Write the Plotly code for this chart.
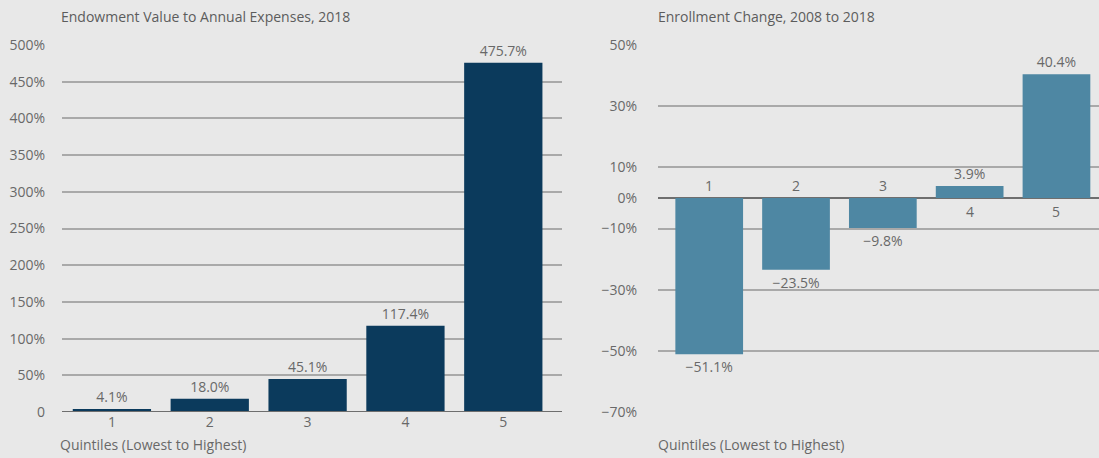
import plotly.graph_objects as go

quintiles = ["1", "2", "3", "4", "5"]
endowment_ratio = [4.1, 18.0, 45.1, 117.4, 475.7]
enrollment_change = [-51.1, -23.5, -9.8, 3.9, 40.4]

left_title = "Endowment Value to Annual Expenses, 2018"
right_title = "Enrollment Change, 2008 to 2018"
x_title = "Quintiles (Lowest to Highest)"

left_ticks = [0, 50, 100, 150, 200, 250, 300, 350, 400, 450, 500]
right_ticks = [50, 30, 10, 0, -10, -30, -50, -70]

W, H = 1099, 458
TOP, BOT = 45, 412
FONT = "Open Sans"
TXT = "#686868"
BG = "#e8e8e8"
GRID = "#a9a9a9"
FS = 14


def py(p):
    return (BOT - p) / (BOT - TOP)


def pct(v):
    return f"{v:.1f}%".replace("-", "\u2212")


def tick_lbl(v):
    if v == 0:
        return "0"
    return f"{v}%".replace("-", "\u2212")


def tick_lbl_r(v):
    return f"{v}%".replace("-", "\u2212")


fig = go.Figure()
fig.add_trace(go.Bar(
    x=list(range(5)), y=endowment_ratio, marker_color="#0b3a5c",
    marker_line_width=0, width=0.8,
    text=[pct(v) for v in endowment_ratio], textposition="outside",
    textfont=dict(family=FONT, size=FS, color=TXT), cliponaxis=False,
    xaxis="x", yaxis="y", showlegend=False, hoverinfo="skip",
))
fig.add_trace(go.Bar(
    x=list(range(5)), y=enrollment_change, marker_color="#4e87a3",
    marker_line_width=0, width=0.78,
    text=[pct(v) for v in enrollment_change], textposition="outside",
    textfont=dict(family=FONT, size=FS, color=TXT), cliponaxis=False,
    xaxis="x2", yaxis="y2", showlegend=False, hoverinfo="skip",
))

xl0, xl1 = 62 / W, 562 / W
xr0, xr1 = 658 / W, 1.0

fig.update_layout(
    width=W, height=H,
    margin=dict(l=0, r=0, t=TOP, b=H - BOT),
    paper_bgcolor=BG, plot_bgcolor=BG,
    font=dict(family=FONT, size=FS, color=TXT),
    xaxis=dict(domain=[xl0, xl1], range=[-0.51, 4.6],
               tickvals=list(range(5)), ticktext=quintiles,
               showgrid=False, zeroline=False, showline=False, ticks="",
               tickfont=dict(family=FONT, size=FS, color=TXT)),
    yaxis=dict(domain=[0, 1], range=[0, 500], tickvals=left_ticks,
               ticktext=[tick_lbl(v) for v in left_ticks],
               showgrid=True, gridcolor=GRID, gridwidth=2,
               zeroline=False, showline=False, ticks="", ticklabelstandoff=16,
               tickfont=dict(family=FONT, size=FS, color=TXT), anchor="x"),
    xaxis2=dict(domain=[xr0, xr1], range=[-0.59, 4.49],
                showticklabels=False, showgrid=False, zeroline=False,
                showline=False, ticks="", anchor="y2"),
    yaxis2=dict(domain=[0, 1], range=[-70, 50], tickvals=right_ticks,
                ticktext=[tick_lbl_r(v) for v in right_ticks],
                showgrid=True, gridcolor=GRID, gridwidth=2,
                zeroline=True, zerolinecolor="#6e6e6e", zerolinewidth=2,
                showline=False, ticks="", ticklabelstandoff=20,
                tickfont=dict(family=FONT, size=FS, color=TXT), anchor="x2"),
)

fig.add_shape(type="line", xref="x domain", yref="y", x0=0, x1=1, y0=0, y1=0,
              line=dict(color="#6e6e6e", width=2))

for i, (q, v) in enumerate(zip(quintiles, enrollment_change)):
    fig.add_annotation(x=i, y=0, xref="x2", yref="y2", text=q, showarrow=False,
                       yanchor="bottom" if v < 0 else "top",
                       yshift=1 if v < 0 else -2,
                       font=dict(family=FONT, size=FS, color=TXT))

title_font = dict(family=FONT, size=FS, color="#5c5c5c")
fig.add_annotation(x=59 / W, y=py(16), xref="paper", yref="paper",
                   yanchor="middle", xanchor="left", text=left_title,
                   showarrow=False, font=title_font)
fig.add_annotation(x=656 / W, y=py(16), xref="paper", yref="paper",
                   yanchor="middle", xanchor="left", text=right_title,
                   showarrow=False, font=title_font)
fig.add_annotation(x=58 / W, y=py(444), xref="paper", yref="paper",
                   yanchor="middle", xanchor="left", text=x_title,
                   showarrow=False, font=dict(family=FONT, size=FS, color=TXT))
fig.add_annotation(x=656 / W, y=py(444), xref="paper", yref="paper",
                   yanchor="middle", xanchor="left", text=x_title,
                   showarrow=False, font=dict(family=FONT, size=FS, color=TXT))

fig.write_html("out.html", config={"displayModeBar": False},
               post_script="document.body.style.margin='0';")
